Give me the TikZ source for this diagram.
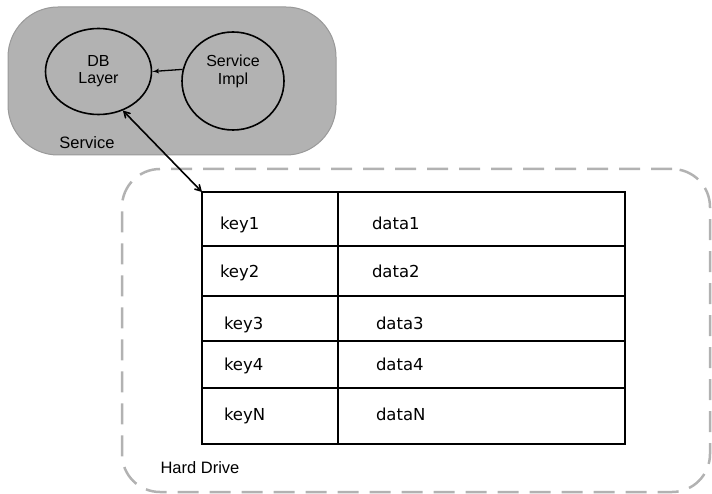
\documentclass[tikz,border=0pt]{standalone}
\usepackage{fontspec}
\setmainfont{Liberation Sans}
\newfontfamily\cellfont{DejaVu Sans}
\usetikzlibrary{shapes,arrows,positioning}
\tikzstyle{store} = [ellipse, draw=black, line width=1.6pt, inner sep=0pt, align=center, font=\fontsize{16}{17}\selectfont]
\tikzstyle{keycell} = [rectangle, draw=black, line width=1.6pt, outer sep=0pt, text width=100pt, inner xsep=18pt, text height=12pt, text depth=3.5pt, align=left, font=\cellfont\fontsize{16.5}{18}\selectfont]
\tikzstyle{datacell} = [keycell, text width=219pt, inner xsep=34pt]
\tikzstyle{caption} = [font=\fontsize{16.5}{18}\selectfont]

\begin{document}
\begin{tikzpicture}[x=1pt, y=-1pt, >=latex']
\useasboundingbox (0,0) rectangle (712,494);

% service blob and hard drive frame
\node [rectangle, rounded corners=50pt, fill=gray!60, draw=gray!80, line width=1pt, minimum width=328pt, minimum height=148pt] (service) at (172,81) {};
\node [caption] (servicelabel) at (87,143) {Service};
\node [rectangle, rounded corners=38pt, draw=gray!60, line width=2.5pt, dash pattern=on 21pt off 11pt, minimum width=588pt, minimum height=323pt] (disk) at (416,330.5) {};
\node [caption] (disklabel) at (200,468) {Hard Drive};

\node [store, minimum width=106pt, minimum height=86pt] (dblayer) at (98.5,71.5) {DB\\Layer};
\node [store, minimum width=102pt, minimum height=98pt, label={[align=center, font=\fontsize{16}{18}\selectfont, yshift=10pt]center:Service\\Impl}] (impl) at (233,81) {};

% the table
\node [keycell, anchor=north west, minimum height=54pt] (key1) at (202,192) {\raisebox{-6pt}{key1}};
\node [keycell, below=0pt of key1, minimum height=50pt] (key2) {\raisebox{-2pt}{key2}};
\node [keycell, below=0pt of key2, minimum height=45pt] (key3) {\hspace{4pt}\raisebox{-7pt}{key3}};
\node [keycell, below=0pt of key3, minimum height=47pt] (key4) {\hspace{4pt}\raisebox{-2pt}{key4}};
\node [keycell, below=0pt of key4, minimum height=56pt] (keyN) {\hspace{4pt}keyN};
\node [datacell, right=0pt of key1, minimum height=54pt] (data1) {\raisebox{-6pt}{data1}};
\node [datacell, right=0pt of key2, minimum height=50pt] (data2) {\raisebox{-2pt}{data2}};
\node [datacell, right=0pt of key3, minimum height=45pt] (data3) {\hspace{4pt}\raisebox{-7pt}{data3}};
\node [datacell, right=0pt of key4, minimum height=47pt] (data4) {\hspace{4pt}\raisebox{-2pt}{data4}};
\node [datacell, right=0pt of keyN, minimum height=56pt] (dataN) {\hspace{4pt}dataN};

\draw [draw,->,line width=1.3pt] (impl.167) -- (dblayer.east);
\draw [draw,angle 60-angle 60,line width=1.6pt] (dblayer.302) -- (key1.north west);

\end{tikzpicture}
\end{document}
